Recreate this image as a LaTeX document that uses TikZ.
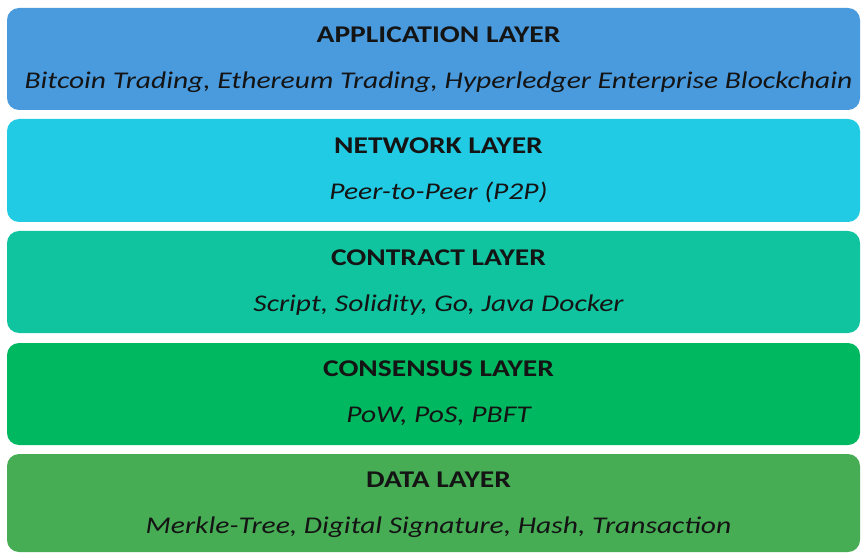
\documentclass[tikz,border=0pt]{standalone}
\usepackage{fontspec}
\usepackage{graphicx}
\setmainfont{Carlito}
\definecolor{appblue}{RGB}{74,155,222}
\definecolor{netcyan}{RGB}{34,203,228}
\definecolor{contealt}{RGB}{16,196,160}
\definecolor{consgreen}{RGB}{0,184,96}
\definecolor{datagreen}{RGB}{70,173,85}
\definecolor{inkdark}{RGB}{20,20,20}
% wide lettering: the type is set a little stretched
\newcommand{\widetype}[1]{\scalebox{1.23}[1]{#1}}
\begin{document}
\begin{tikzpicture}[x=1pt,y=-1pt,
  layerbox/.style={rounded corners=12pt, draw=none},
  layertitle/.style={font=\fontsize{24}{28}\selectfont\bfseries, text=inkdark, inner sep=0pt, anchor=base},
  layertext/.style={font=\fontsize{24}{28}\selectfont\itshape, text=inkdark, inner sep=0pt, anchor=base}]
  \useasboundingbox (0,0) rectangle (861,553);
  \fill[white] (0,0) rectangle (861,553);
  % layer boxes, top to bottom
  \fill[layerbox, appblue]    (7,8)   rectangle (860,110);
  \fill[layerbox, netcyan]    (7,119) rectangle (860,222);
  \fill[layerbox, contealt]   (7,231) rectangle (860,333);
  \fill[layerbox, consgreen]  (7,343) rectangle (860,445);
  \fill[layerbox, datagreen]  (7,454) rectangle (860,552);
  % labels
  \node[layertitle] (appT)  at (438.5,42.5)  {\widetype{APPLICATION LAYER}};
  \node[layertext]  (appS)  at (438.5,88.5)  {\widetype{Bitcoin Trading, Ethereum Trading, Hyperledger Enterprise Blockchain}};
  \node[layertitle] (netT)  at (438.5,154)   {\widetype{NETWORK LAYER}};
  \node[layertext]  (netS)  at (438.5,200)   {\widetype{Peer-to-Peer (P2P)}};
  \node[layertitle] (conT)  at (438.5,265)   {\widetype{CONTRACT LAYER}};
  \node[layertext]  (conS)  at (438.5,311.5) {\widetype{Script, Solidity, Go, Java Docker}};
  \node[layertitle] (csT)   at (438.5,376)   {\widetype{CONSENSUS LAYER}};
  \node[layertext]  (csS)   at (438.5,422)   {\widetype{PoW, PoS, PBFT}};
  \node[layertitle] (datT)  at (438.5,487)   {\widetype{DATA LAYER}};
  \node[layertext]  (datS)  at (438.5,533)   {\widetype{Merkle-Tree, Digital Signature, Hash, Transaction}};
\end{tikzpicture}
\end{document}
